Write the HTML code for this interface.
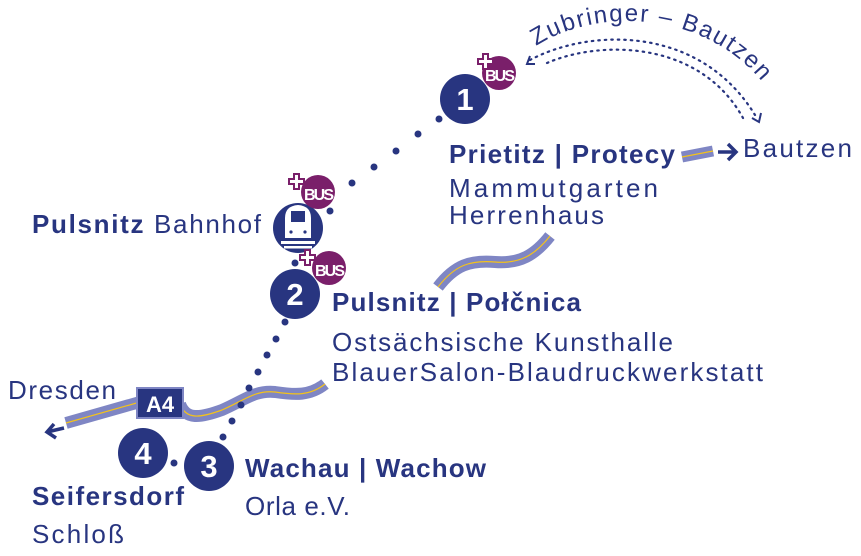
<!DOCTYPE html>
<html><head><meta charset="utf-8"><style>
html,body{margin:0;padding:0;background:#fff}
svg{display:block}
text{font-family:"Liberation Sans","DejaVu Sans",sans-serif;fill:#283580}
.b{font-weight:bold}
</style></head><body>
<svg width="861" height="556" viewBox="0 0 861 556" xmlns="http://www.w3.org/2000/svg">
<g fill="none" stroke-linecap="butt">
<path d="M66,423 L140,402" stroke="#7f86c4" stroke-width="12"/>
<path d="M66,423 L140,402" stroke="#f3c21b" stroke-width="1.2"/>
<path d="M180,404 C186,420 200,418 222,410 C245,400 255,390 275,392 C295,395 310,396 325,384" stroke="#7f86c4" stroke-width="12"/>
<path d="M180,404 C186,420 200,418 222,410 C245,400 255,390 275,392 C295,395 310,396 325,384" stroke="#f3c21b" stroke-width="1.2"/>
<path d="M438,287 C455,265 470,260 495,262 C520,264 535,255 550,236" stroke="#7f86c4" stroke-width="12"/>
<path d="M438,287 C455,265 470,260 495,262 C520,264 535,255 550,236" stroke="#f3c21b" stroke-width="1.2"/>
<path d="M682,157 L713,151" stroke="#7f86c4" stroke-width="11"/>
<path d="M682,157 L713,151" stroke="#f3c21b" stroke-width="1.2"/>
</g>
<rect x="137" y="388" width="46" height="30" fill="#283580" stroke="#7f86c4" stroke-width="2"/>
<text x="160" y="412" font-size="22" class="b" text-anchor="middle" style="fill:#fff">A4</text>
<g stroke="#283580" stroke-width="3.5" fill="none">
<path d="M718,152 L736,152 M728,144 L736,152 L728,160"/>
<path d="M64,428 L47,432 M54,424 L47,432 L56,438"/>
</g>
<g fill="none" stroke="#283580" stroke-width="2.2" stroke-dasharray="1.5 5" stroke-linecap="round">
<path d="M530,60 C590,28 700,25 755,115"/>
<path d="M547,63 C600,40 700,40 743,118"/>
</g>
<g stroke="#283580" stroke-width="2" fill="none">
<path d="M530,56 L527,64 L535,64"/>
<path d="M752,118 L759,122 L761,113"/>
</g>
<defs><path id="arc" d="M536,46 C600,5 715,10 772,95"/></defs>
<text font-size="24"><textPath href="#arc" textLength="248">Zubringer – Bautzen</textPath></text>
<g fill="#283580">
<circle cx="439" cy="119" r="3.5"/><circle cx="418" cy="134" r="3.5"/><circle cx="396" cy="151" r="3.5"/><circle cx="374" cy="167" r="3.5"/><circle cx="352" cy="183" r="3.5"/><circle cx="330" cy="211" r="3.5"/>
<circle cx="295" cy="263" r="3.5"/>
<circle cx="285" cy="322" r="3.5"/><circle cx="276" cy="339" r="3.5"/><circle cx="267" cy="355" r="3.5"/><circle cx="258" cy="372" r="3.5"/><circle cx="249" cy="388" r="3.5"/><circle cx="241" cy="405" r="3.5"/><circle cx="232" cy="421" r="3.5"/><circle cx="223" cy="437" r="3.5"/>
<circle cx="174" cy="463" r="3.5"/>
</g>
<g fill="#283580">
<circle cx="465" cy="99" r="25"/>
<circle cx="298" cy="228" r="25"/>
<circle cx="295" cy="294" r="25"/>
<circle cx="209" cy="466" r="25"/>
<circle cx="143" cy="453" r="25"/>
</g>
<g font-size="31" text-anchor="middle" style="font-weight:bold">
<text x="465" y="110" style="fill:#fff">1</text>
<text x="295" y="305" style="fill:#fff">2</text>
<text x="209" y="477" style="fill:#fff">3</text>
<text x="143" y="464" style="fill:#fff">4</text>
</g>
<g fill="#fff">
<path d="M285,238 L285,218 Q285,206 298,205 Q311,206 311,218 L311,238 Z"/>
<rect x="281" y="241" width="34" height="3"/>
<rect x="284" y="246" width="28" height="2.5"/>
</g>
<rect x="291" y="211" width="14" height="11" fill="#283580"/>
<circle cx="291" cy="232" r="1.6" fill="#283580"/><circle cx="305" cy="232" r="1.6" fill="#283580"/>
<g fill="#7a1f6a">
<circle cx="499" cy="73" r="17"/>
<circle cx="318" cy="192" r="17"/>
<circle cx="329" cy="268" r="17"/>
</g>
<g stroke="#7a1f6a" stroke-width="2" fill="#fff">
<path d="M478,59 h5 v-5 h5 v5 h5 v5 h-5 v5 h-5 v-5 h-5 z"/>
<path d="M289,179 h5 v-5 h5 v5 h5 v5 h-5 v5 h-5 v-5 h-5 z"/>
<path d="M300,255 h5 v-5 h5 v5 h5 v5 h-5 v5 h-5 v-5 h-5 z"/>
</g>
<g font-size="16" style="font-weight:bold">
<text x="485" y="81" style="fill:#fff" textLength="30">BUS</text>
<text x="304" y="200" style="fill:#fff" textLength="30">BUS</text>
<text x="315" y="276" style="fill:#fff" textLength="30">BUS</text>
</g>
<g font-size="26">
<text x="449" y="163" class="b" textLength="226">Prietitz | Protecy</text>
<text x="449" y="197" textLength="209">Mammutgarten</text>
<text x="449" y="224" textLength="155">Herrenhaus</text>
<text x="743" y="157" textLength="109">Bautzen</text>
<text x="32" y="233" textLength="229"><tspan class="b">Pulsnitz</tspan> Bahnhof</text>
<text x="332" y="311" class="b" textLength="249">Pulsnitz | Połčnica</text>
<text x="332" y="351" textLength="341">Ostsächsische Kunsthalle</text>
<text x="332" y="381" textLength="431">BlauerSalon-Blaudruckwerkstatt</text>
<text x="8" y="399" textLength="108">Dresden</text>
<text x="245" y="477" class="b" textLength="241">Wachau | Wachow</text>
<text x="245" y="515" textLength="105">Orla e.V.</text>
<text x="32" y="505" class="b" textLength="152">Seifersdorf</text>
<text x="32" y="543" textLength="92">Schloß</text>
</g>
</svg>
</body></html>
